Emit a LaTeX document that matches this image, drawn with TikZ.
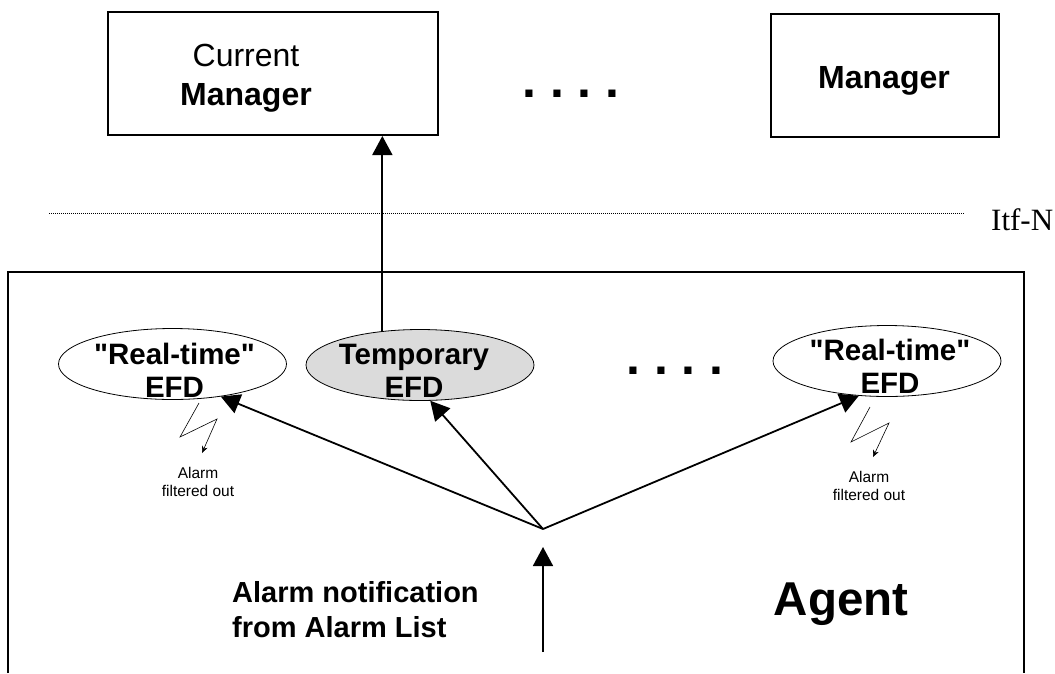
\documentclass[tikz,border=0pt]{standalone}
\usepackage{fontspec}
\setmainfont{Liberation Sans}
\newfontfamily\itffont{Liberation Serif}
\usetikzlibrary{arrows.meta,shapes.geometric}

\tikzset{
  mgrbox/.style={draw, line width=2pt, minimum width=330pt, minimum height=123pt, inner sep=0pt},
  mgrtext/.style={inner sep=0pt, align=center, font=\fontsize{32}{39}\selectfont},
  efd/.style={draw, ellipse, line width=0.8pt, minimum width=228pt, minimum height=71pt, inner sep=0pt},
  efdtext/.style={align=center, inner sep=0pt, font=\fontsize{29.5}{33}\selectfont\bfseries},
  note/.style={align=center, inner sep=0pt, font=\fontsize{15.5}{17.5}\selectfont},
  dots/.style={anchor=base, inner sep=0pt, font=\fontsize{50}{50}\selectfont\bfseries\frenchspacing},
  arr/.style={line width=1.8pt, -{Triangle[length=19pt,width=20pt]}},
  bolt/.style={line width=0.6pt, -{Stealth[length=7pt,width=6pt]}}
}

\begin{document}
\begin{tikzpicture}[x=1pt,y=-1pt]
\useasboundingbox (0,0) rectangle (1055,673);

% managers
\node[mgrbox] (cur) at (273,73.5) {};
\node[mgrtext] (curtxt) at (246,78) {Current\\\textbf{Manager}};
\node[mgrbox, minimum width=228pt] (mgr) at (885,75.5) {};
\node[mgrtext, font=\fontsize{32}{39}\selectfont\bfseries] (mgrtxt) at (884,81) {Manager};
\node[dots] (dotsup) at (571,97) {. . . .};

% interface
\coordinate (itfL) at (49,213);
\coordinate (itfR) at (965,213);
\draw[line width=0.9pt, dash pattern=on 1pt off 1pt] (itfL) -- (itfR);
\node[anchor=base west, inner sep=0pt, font=\itffont\fontsize{31}{31}\selectfont] (itf) at (991,230) {Itf-N};

% agent
\draw[line width=2pt] (8,673) -- (8,272) -- (1024,272) -- (1024,673);
\node[anchor=base, inner sep=0pt, font=\fontsize{47.5}{50}\selectfont\bfseries] (agent) at (841,615) {Agent};

% EFDs
\node[efd] (rt1) at (172.5,364) {};
\node[efdtext] (rt1txt) at (174.5,370.5) {\textquotedbl Real-time\textquotedbl\\EFD};
\node[efd, fill=black!14] (tmp) at (420,365) {};
\node[efdtext] (tmptxt) at (414,371) {Temporary\\EFD};
\node[efd] (rt2) at (887,361) {};
\node[efdtext] (rt2txt) at (890,366) {\textquotedbl Real-time\textquotedbl\\EFD};
\node[dots] (dotsmid) at (675,374) {. . . .};

% filtered alarms
\draw[bolt] (199,403) -- (180,437) -- (217,419) -- (202,453);
\node[note] (flt1) at (198,482) {Alarm\\filtered out};
\draw[bolt] (870,407) -- (851,442) -- (889,423) -- (873,457);
\node[note] (flt2) at (869,486) {Alarm\\filtered out};

% notification
\coordinate (src) at (543,652);
\coordinate (j) at (543,529);
\node[anchor=west, align=left, inner sep=0pt, font=\fontsize{29}{35}\selectfont\bfseries] (ntf) at (232,610) {Alarm notification\\from Alarm List};
\draw[arr] (src) -- ([yshift=-18pt]j);
\draw[arr] (j) -- (rt1.-34);
\draw[arr] (j) -- (tmp.-74);
\draw[arr] (j) -- (rt2.-129);
\draw[arr] (tmp.138) -- (tmp.138 |- cur.south);

\end{tikzpicture}
\end{document}
